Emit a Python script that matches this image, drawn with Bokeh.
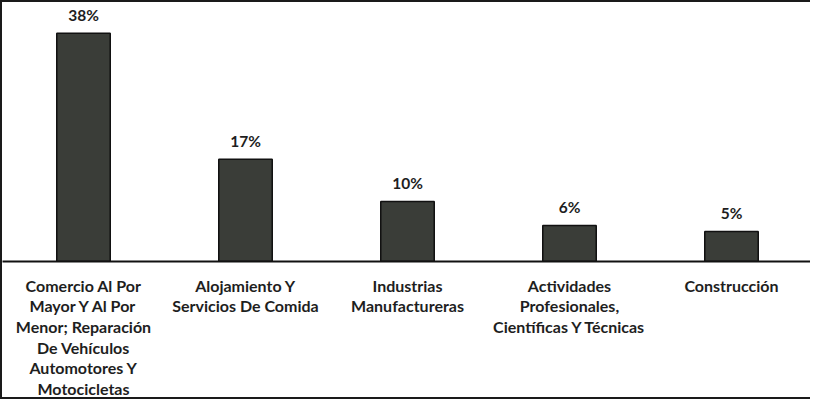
from bokeh.plotting import figure
from bokeh.models import ColumnDataSource, FactorRange, Range1d, LabelSet
from bokeh.core.properties import value
from bokeh.embed import file_html
from bokeh.resources import INLINE

categories = [
    "Comercio Al Por\nMayor Y Al Por\nMenor; Reparación\nDe Vehículos\nAutomotores Y\nMotocicletas",
    "Alojamiento Y\nServicios De Comida",
    "Industrias\nManufactureras",
    "Actividades\nProfesionales,\nCientíficas Y Técnicas",
    "Construcción",
]
values = [38, 17, 10, 6, 5]
value_labels = ["38%", "17%", "10%", "6%", "5%"]

source = ColumnDataSource(data=dict(cat=categories, val=values, lab=value_labels))

p = figure(
    x_range=FactorRange(*categories, range_padding=0),
    y_range=Range1d(0, 43.1),
    width=810, height=399,
    output_backend="svg", toolbar_location=None,
    min_border_left=0, min_border_right=0, min_border_top=0, min_border_bottom=139,
)
p.styles = {"border-left": "2px solid #1a1a1a", "border-top": "2px solid #1a1a1a",
            "border-bottom": "2px solid #1a1a1a"}

p.vbar(x="cat", top="val", width=0.33, source=source,
       fill_color="#3a3d38", line_color="#111111", line_width=1.5)

labels = LabelSet(x="cat", y="val", text="lab", source=source,
                  text_align="center", text_baseline="bottom", y_offset=9,
                  text_font=value("Lato"), text_font_style="bold", text_font_size="15.5px",
                  text_color="#1e1e1e")
p.add_layout(labels)

p.outline_line_color = None
p.grid.grid_line_color = None
p.yaxis.visible = False
p.xaxis.axis_line_color = "#111111"
p.xaxis.axis_line_width = 2
p.xaxis.major_tick_line_color = None
p.xaxis.minor_tick_line_color = None
p.xaxis.major_label_text_font = "Lato"
p.xaxis.major_label_text_font_style = "bold"
p.xaxis.major_label_text_font_size = "16px"
p.xaxis.major_label_text_color = "#1e1e1e"
p.xaxis.major_label_text_line_height = 1.09
p.xaxis.major_label_standoff = 8
p.xaxis.major_label_orientation = "horizontal"

open("out.html", "w").write(file_html(p, INLINE))
